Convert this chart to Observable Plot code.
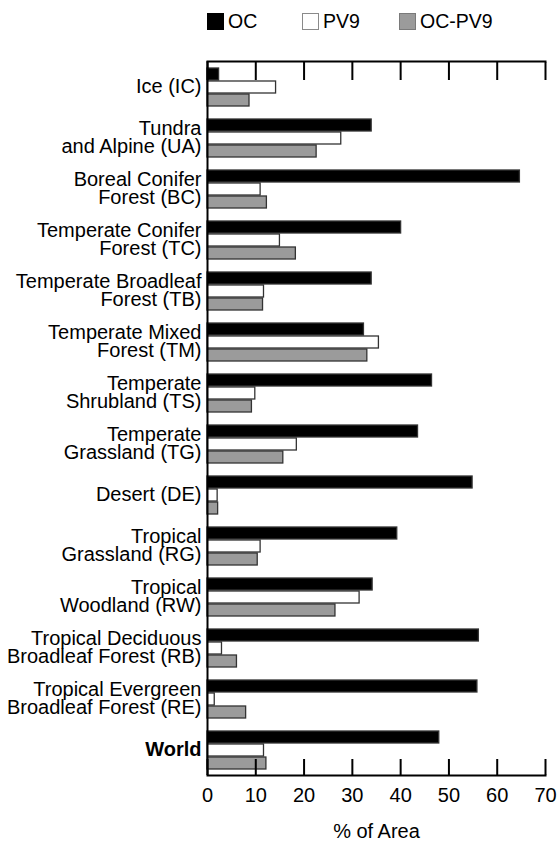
<!DOCTYPE html>
<html><head><meta charset="utf-8">
<script src="https://cdn.jsdelivr.net/npm/d3@7"></script>
<script src="https://cdn.jsdelivr.net/npm/@observablehq/plot@0.6"></script>
<style>
body{margin:0;background:#fff;font-family:"Liberation Sans",Arial,Helvetica,sans-serif;}
#legend{position:relative;height:40px;width:558px;}
.item{position:absolute;top:13px;height:17px;display:flex;align-items:center;font-size:19.5px;line-height:17px;color:#000;}
.sw{width:17px;height:17px;box-sizing:border-box;margin-right:4px;}
#chart svg{display:block;}
</style></head><body>
<div id="legend"></div><div id="chart"></div>
<script>
const categories = [
  "Ice (IC)",
  "Tundra\nand Alpine (UA)",
  "Boreal Conifer\nForest (BC)",
  "Temperate Conifer\nForest (TC)",
  "Temperate Broadleaf\nForest (TB)",
  "Temperate Mixed\nForest (TM)",
  "Temperate\nShrubland (TS)",
  "Temperate\nGrassland (TG)",
  "Desert (DE)",
  "Tropical\nGrassland (RG)",
  "Tropical\nWoodland (RW)",
  "Tropical Deciduous\nBroadleaf Forest (RB)",
  "Tropical Evergreen\nBroadleaf Forest (RE)",
  "World"
];
const series = ["OC", "PV9", "OC-PV9"];
const oc    = [2.4, 34.0, 64.7, 40.1, 34.0, 32.4, 46.5, 43.6, 54.9, 39.3, 34.2, 56.2, 55.9, 48.0];
const pv9   = [14.2, 27.7, 11.0, 15.0, 11.7, 35.5, 9.9, 18.5, 2.1, 11.0, 31.5, 3.0, 1.5, 11.7];
const ocpv9 = [8.7, 22.6, 12.3, 18.3, 11.5, 33.1, 9.2, 15.7, 2.2, 10.4, 26.5, 6.1, 8.0, 12.2];
const xTicks = [0, 10, 20, 30, 40, 50, 60, 70];
const seriesFill = ["#000000", "#ffffff", "#9b9b9b"];
const seriesBorder = ["#000000", "#8a8a8a", "#7a7a7a"];
const boldCategory = "World";

const values = [oc, pv9, ocpv9];
const data = categories.flatMap((c, i) => series.map((s, j) => ({cat: c, series: s, value: values[j][i]})));

const legend = document.getElementById("legend");
const legendLeft = [207, 302, 399];
series.forEach((s, j) => {
  const it = document.createElement("div");
  it.className = "item";
  it.style.left = legendLeft[j] + "px";
  const sw = document.createElement("div");
  sw.className = "sw";
  sw.style.background = seriesFill[j];
  sw.style.border = "1px solid " + seriesBorder[j];
  it.appendChild(sw);
  const t = document.createElement("span");
  t.textContent = s;
  it.appendChild(t);
  legend.appendChild(it);
});

const font = "'Liberation Sans', Arial, Helvetica, sans-serif";
const plot = Plot.plot({
  width: 558, height: 803,
  marginTop: 15, marginBottom: 63, marginLeft: 207, marginRight: 13,
  style: {fontFamily: font, fontSize: "20px", color: "#000", background: "#fff"},
  x: {domain: [0, 70], ticks: xTicks},
  y: {domain: series, paddingInner: 0.08, paddingOuter: 0.46, axis: null},
  fy: {domain: categories, padding: 0, label: null},
  color: {domain: series, range: seriesFill},
  marks: [
    Plot.barX(data, {fy: "cat", y: "series", x: "value", fill: "series", stroke: "#333", strokeWidth: 1.3}),
    Plot.ruleX([0], {strokeWidth: 2}),
    Plot.frame({anchor: "top", facetAnchor: "top", strokeWidth: 2}),
    Plot.frame({anchor: "bottom", facetAnchor: "bottom", strokeWidth: 2}),
    Plot.axisX({anchor: "top", ticks: xTicks, tickSize: -18, tickFormat: () => "", label: null, strokeWidth: 2}),
    Plot.axisX({anchor: "bottom", ticks: xTicks, tickSize: -16, tickPadding: 28, fontSize: 20, label: "% of Area", labelAnchor: "center", labelArrow: "none", labelOffset: 62, strokeWidth: 2}),
    Plot.axisFy({anchor: "left", tickSize: 0, tickPadding: 6, fontSize: 20, lineHeight: 0.92, label: null, tickFormat: d => d === boldCategory ? "" : d}),
    Plot.axisFy({anchor: "left", tickSize: 0, tickPadding: 6, fontSize: 20, fontWeight: "bold", label: null, tickFormat: d => d === boldCategory ? d : ""})
  ]
});
document.getElementById("chart").appendChild(plot);
</script>
</body></html>
